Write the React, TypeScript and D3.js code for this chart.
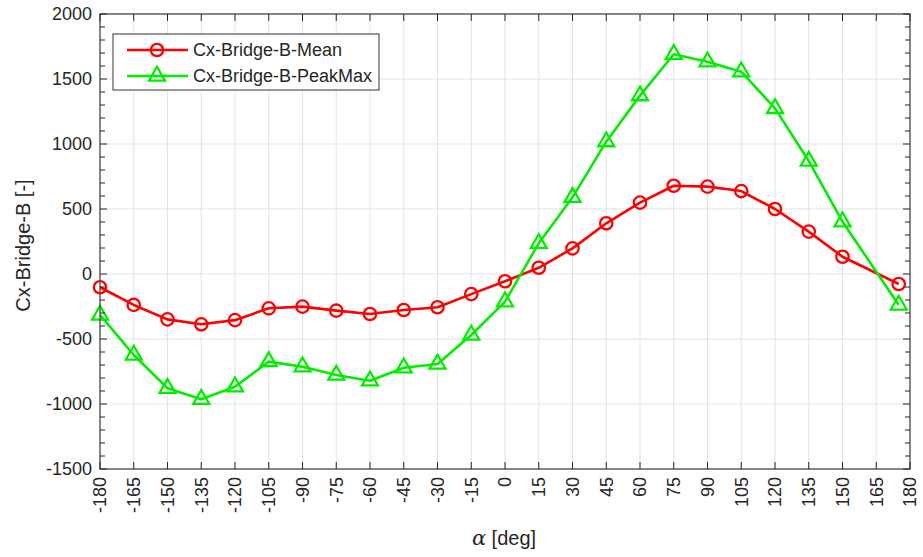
import { useEffect, useRef } from "react"
import * as d3 from "d3"

const alpha = [-180, -165, -150, -135, -120, -105, -90, -75, -60, -45, -30, -15, 0, 15, 30, 45, 60, 75, 90, 105, 120, 135, 150, 175]
const meanValues = [-102, -238, -349, -387, -355, -264, -251, -282, -308, -277, -256, -155, -56, 48, 197, 390, 549, 679, 672, 638, 500, 326, 133, -77]
const peakMaxValues = [-315, -623, -879, -964, -867, -674, -713, -777, -821, -721, -692, -469, -213, 236, 590, 1018, 1372, 1690, 1633, 1556, 1274, 869, 402, -238]
const xTicks = d3.range(-180, 181, 15)
const yTicks = [-1500, -1000, -500, 0, 500, 1000, 1500, 2000]
const yMinorTicks = d3.range(-1500, 2001, 100)

const series = [
  { name: "Cx-Bridge-B-Mean", values: meanValues, color: "#ff0000", marker: "circle" },
  { name: "Cx-Bridge-B-PeakMax", values: peakMaxValues, color: "#00ee00", marker: "triangle" },
]

const App = () => {
  const svgRef = useRef<SVGSVGElement>(null)

  useEffect(() => {
    const svg = d3.select(svgRef.current)
    svg.selectAll("*").remove()

    const margin = { top: 14, right: 13, bottom: 88, left: 100 }
    const width = 923 - margin.left - margin.right
    const height = 557 - margin.top - margin.bottom
    const font = "Arial, 'Liberation Sans', sans-serif"
    const axisColor = "#262626"

    const x = d3.scaleLinear().domain([-180, 180]).range([0, width])
    const y = d3.scaleLinear().domain([-1500, 2000]).range([height, 0])

    const g = svg.append("g").attr("transform", `translate(${margin.left},${margin.top})`)

    // grid
    g.append("g")
      .selectAll("line")
      .data(xTicks)
      .join("line")
      .attr("x1", (d) => x(d))
      .attr("x2", (d) => x(d))
      .attr("y1", 0)
      .attr("y2", height)
      .attr("stroke", "#e3e3e3")
      .attr("stroke-width", 1)
    g.append("g")
      .selectAll("line")
      .data(yTicks)
      .join("line")
      .attr("x1", 0)
      .attr("x2", width)
      .attr("y1", (d) => y(d))
      .attr("y2", (d) => y(d))
      .attr("stroke", "#e3e3e3")
      .attr("stroke-width", 1)

    const markerPath = (m: string) =>
      d3.symbol().type(m === "circle" ? d3.symbolCircle : d3.symbolTriangle).size(m === "circle" ? 120 : 110)()

    // lines + markers
    series.forEach((s) => {
      const line = d3
        .line<number>()
        .x((_, i) => x(alpha[i]))
        .y((d) => y(d))
      g.append("path")
        .datum(s.values)
        .attr("fill", "none")
        .attr("stroke", s.color)
        .attr("stroke-width", 2.6)
        .attr("stroke-linejoin", "round")
        .attr("d", line)

      g.append("g")
        .selectAll("path")
        .data(s.values)
        .join("path")
        .attr("transform", (d, i) => `translate(${x(alpha[i])},${y(d)})`)
        .attr("d", markerPath(s.marker))
        .attr("fill", "none")
        .attr("stroke", s.color)
        .attr("stroke-width", 2.3)
    })

    // axes box
    g.append("rect")
      .attr("x", 0)
      .attr("y", 0)
      .attr("width", width)
      .attr("height", height)
      .attr("fill", "none")
      .attr("stroke", "#4d4d4d")
      .attr("stroke-width", 1.3)

    // x ticks (bottom + top)
    g.append("g")
      .selectAll("line")
      .data(xTicks)
      .join("line")
      .attr("x1", (d) => x(d))
      .attr("x2", (d) => x(d))
      .attr("y1", height)
      .attr("y2", height - 7)
      .attr("stroke", axisColor)
      .attr("stroke-width", 1)
    g.append("g")
      .selectAll("line")
      .data(xTicks)
      .join("line")
      .attr("x1", (d) => x(d))
      .attr("x2", (d) => x(d))
      .attr("y1", 0)
      .attr("y2", 7)
      .attr("stroke", axisColor)
      .attr("stroke-width", 1)

    // y ticks (left + right)
    g.append("g")
      .selectAll("line")
      .data(yMinorTicks)
      .join("line")
      .attr("x1", 0)
      .attr("x2", (d) => (d % 500 === 0 ? 7 : 5))
      .attr("y1", (d) => y(d))
      .attr("y2", (d) => y(d))
      .attr("stroke", axisColor)
      .attr("stroke-width", 1)
    g.append("g")
      .selectAll("line")
      .data(yMinorTicks)
      .join("line")
      .attr("x1", width)
      .attr("x2", (d) => width - (d % 500 === 0 ? 7 : 5))
      .attr("y1", (d) => y(d))
      .attr("y2", (d) => y(d))
      .attr("stroke", axisColor)
      .attr("stroke-width", 1)

    // tick labels
    g.append("g")
      .selectAll("text")
      .data(yTicks)
      .join("text")
      .attr("x", -8)
      .attr("y", (d) => y(d))
      .attr("dy", "0.35em")
      .attr("text-anchor", "end")
      .style("font-family", font)
      .style("font-size", "18px")
      .style("fill", axisColor)
      .text((d) => d)

    g.append("g")
      .selectAll("text")
      .data(xTicks)
      .join("text")
      .attr("transform", (d) => `translate(${x(d)},${height + 8}) rotate(-90)`)
      .attr("dy", "0.35em")
      .attr("text-anchor", "end")
      .style("font-family", font)
      .style("font-size", "18px")
      .style("fill", axisColor)
      .text((d) => d)

    // axis labels
    svg
      .append("text")
      .attr("transform", `translate(23,${margin.top + height / 2 + 4}) rotate(-90)`)
      .attr("dy", "0.35em")
      .attr("text-anchor", "middle")
      .style("font-family", font)
      .style("font-size", "20px")
      .style("fill", axisColor)
      .text("Cx-Bridge-B [-]")

    const xl = svg
      .append("text")
      .attr("x", margin.left + width / 2 - 1)
      .attr("y", 545)
      .attr("text-anchor", "middle")
      .style("font-family", font)
      .style("font-size", "20px")
      .style("fill", axisColor)
    xl.append("tspan")
      .style("font-family", "'DejaVu Serif', 'Liberation Serif', serif")
      .style("font-style", "italic")
      .style("font-size", "21px")
      .text("α")
    xl.append("tspan").text(" [deg]")

    // legend
    const lg = svg.append("g").attr("transform", "translate(113,34)")
    lg.append("rect")
      .attr("width", 266)
      .attr("height", 56)
      .attr("fill", "#ffffff")
      .attr("stroke", "#333333")
      .attr("stroke-width", 1)
    series.forEach((s, i) => {
      const cy = 16 + i * 26
      lg.append("line")
        .attr("x1", 14)
        .attr("x2", 75)
        .attr("y1", cy)
        .attr("y2", cy)
        .attr("stroke", s.color)
        .attr("stroke-width", 2.6)
      lg.append("path")
        .attr("transform", `translate(44,${cy})`)
        .attr("d", markerPath(s.marker))
        .attr("fill", "none")
        .attr("stroke", s.color)
        .attr("stroke-width", 2.3)
      lg.append("text")
        .attr("x", 80)
        .attr("y", cy)
        .attr("dy", "0.35em")
        .style("font-family", font)
        .style("font-size", "18px")
        .style("fill", axisColor)
        .text(s.name)
    })
  }, [])

  return <svg ref={svgRef} width={923} height={557} style={{ display: "block", position: "absolute", left: 0, top: 0 }}></svg>
}

export default App
